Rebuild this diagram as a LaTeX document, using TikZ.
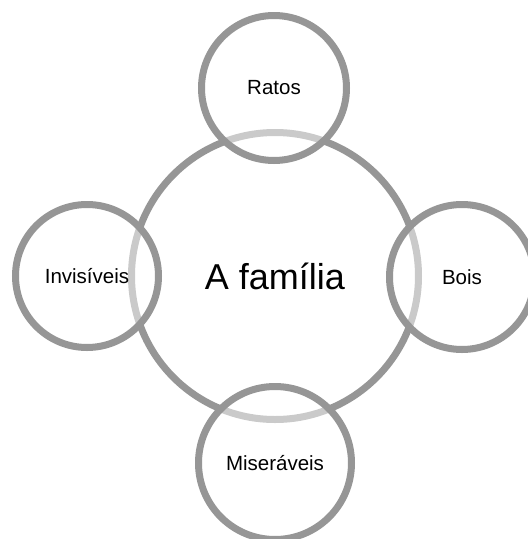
\documentclass[tikz,border=0pt]{standalone}
\usepackage{fontspec}
\setmainfont{Liberation Sans}
\definecolor{ringgray}{RGB}{150,150,150}

\begin{document}
\begin{tikzpicture}[x=1pt, y=-1pt,
    hub/.style={circle, draw=ringgray, line width=7pt, inner sep=0pt,
        minimum size=287pt, font=\fontsize{36}{40}\selectfont},
    spoke/.style={circle, draw=ringgray, line width=7pt, inner sep=0pt,
        fill=white, fill opacity=0.5, draw opacity=1, text opacity=1,
        font=\fontsize{20.5}{24}\selectfont}]
\useasboundingbox (0,0) rectangle (528,539);
\clip (0,0) rectangle (528,539);
% centre
\node[hub] (familia) at (275,276) {A família};
% the four around it
\node[spoke, minimum size=145pt] (ratos) at (274,88) {Ratos};
\node[spoke, minimum size=143pt] (invisiveis) at (87,276) {Invisíveis};
\node[spoke, minimum size=145pt] (bois) at (462,277) {Bois};
\node[spoke, minimum size=153pt] (miseraveis) at (275,463) {Miseráveis};
\end{tikzpicture}
\end{document}
